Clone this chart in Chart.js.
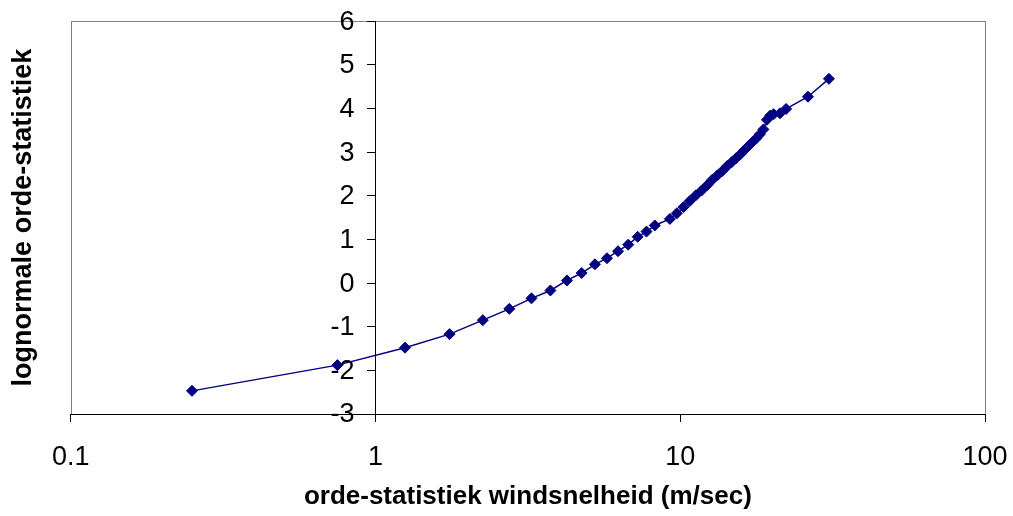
<!DOCTYPE html>
<html>
<head>
<meta charset="utf-8">
<script src="https://cdn.jsdelivr.net/npm/chart.js@4.4.1/dist/chart.umd.min.js"></script>
<style>
  html, body { margin: 0; padding: 0; background: #ffffff; }
  #wrap { width: 1013px; height: 516px; position: relative; }
</style>
</head>
<body>
<div id="wrap"><canvas id="c" width="1013" height="516"></canvas></div>
<script>
// Data
const windSpeed = [0.25, 0.75, 1.25, 1.75, 2.25, 2.75, 3.25, 3.75, 4.25, 4.75,
  5.25, 5.75, 6.25, 6.75, 7.25, 7.75, 8.25, 9.25, 9.75, 10.25,
  10.75, 11.25, 11.75, 12.25, 12.75, 13.25, 13.75, 14.25, 14.75, 15.25,
  15.75, 16.25, 16.75, 17.25, 17.75, 18.25, 18.75, 19.25, 19.75, 20.25,
  21.25, 22.25, 26.25, 30.75];
const lognormalStat = [-2.47, -1.88, -1.48, -1.17, -0.85, -0.59, -0.35, -0.17, 0.06, 0.23,
  0.43, 0.57, 0.73, 0.88, 1.06, 1.18, 1.32, 1.47, 1.60, 1.74,
  1.88, 2.01, 2.12, 2.24, 2.37, 2.47, 2.57, 2.68, 2.77, 2.86,
  2.95, 3.05, 3.14, 3.23, 3.31, 3.41, 3.52, 3.74, 3.84, 3.87,
  3.89, 3.99, 4.27, 4.68];
const xTickValues = [0.1, 1, 10, 100];
const xTickLabels = ['0.1', '1', '10', '100'];
const yMin = -3, yMax = 6, yStep = 1;
const xTitle = 'orde-statistiek windsnelheid (m/sec)';
const yTitle = 'lognormale orde-statistiek';

const points = windSpeed.map((v, i) => ({ x: v, y: lognormalStat[i] }));
const FONT = '"Liberation Sans", Arial, Helvetica, sans-serif';

const frame = {
  id: 'frame',
  beforeDraw(chart) {
    const a = chart.chartArea, ctx = chart.ctx;
    ctx.save();
    ctx.strokeStyle = '#808080';
    ctx.lineWidth = 1;
    ctx.strokeRect(Math.round(a.left) + 0.5, Math.round(a.top) + 0.5,
      Math.round(a.right - a.left), Math.round(a.bottom - a.top));
    ctx.restore();
    // place the y tick labels to the left of the crossing axis
    const ys = chart.scales.y;
    const items = ys.getLabelItems(chart.chartArea);
    items.forEach(it => {
      if (!it._moved) {
        it.options.translation[0] -= 21;
        it.options.translation[1] += 1;
        it._moved = true;
      }
    });
  }
};

new Chart(document.getElementById('c'), {
  type: 'scatter',
  data: {
    datasets: [{
      data: points,
      showLine: true,
      borderColor: '#000080',
      backgroundColor: '#000080',
      borderWidth: 1.5,
      pointStyle: 'rectRot',
      pointRadius: 5.5,
      pointBorderWidth: 1,
      pointBorderColor: '#000080',
      pointBackgroundColor: '#000080',
      tension: 0
    }]
  },
  plugins: [frame],
  options: {
    responsive: false,
    animation: false,
    devicePixelRatio: 1,
    layout: { padding: { left: 0, right: 28, top: 17, bottom: 0 } },
    plugins: {
      legend: { display: false },
      tooltip: { enabled: false },
      title: {
        display: true,
        position: 'left',
        fullSize: false,
        text: yTitle,
        color: '#000',
        font: { family: FONT, size: 27, weight: 'bold', lineHeight: 1.2 },
        padding: { top: 7, bottom: 31.3 }
      }
    },
    scales: {
      x: {
        type: 'logarithmic',
        min: 0.1,
        max: 100,
        afterBuildTicks(scale) {
          scale.ticks = xTickValues.map(v => ({ value: v, major: true }));
        },
        afterFit(scale) {
          scale.height = 102;
          scale.paddingLeft = 0;
          scale.paddingRight = 0;
        },
        ticks: {
          color: '#000',
          font: { family: FONT, size: 27 },
          padding: 19,
          maxRotation: 0,
          autoSkip: false,
          callback(value) {
            const i = xTickValues.indexOf(value);
            return i >= 0 ? xTickLabels[i] : '';
          }
        },
        grid: { drawOnChartArea: false, drawTicks: true, tickLength: 8, color: '#000' },
        border: { display: true, color: '#000', width: 1 },
        title: {
          display: true,
          text: xTitle,
          color: '#000',
          font: { family: FONT, size: 26, weight: 'bold', lineHeight: 1.2 },
          padding: { top: 10, bottom: 3.4 }
        }
      },
      y: {
        type: 'linear',
        min: yMin,
        max: yMax,
        position: { x: 1 },
        afterFit(scale) { scale.width = 0; },
        ticks: {
          stepSize: yStep,
          color: '#000',
          font: { family: FONT, size: 27 },
          padding: 5
        },
        grid: { drawOnChartArea: false, drawTicks: true, tickLength: 8, color: '#000' },
        border: { display: true, color: '#000', width: 1 }
      }
    }
  }
});
</script>
</body>
</html>
